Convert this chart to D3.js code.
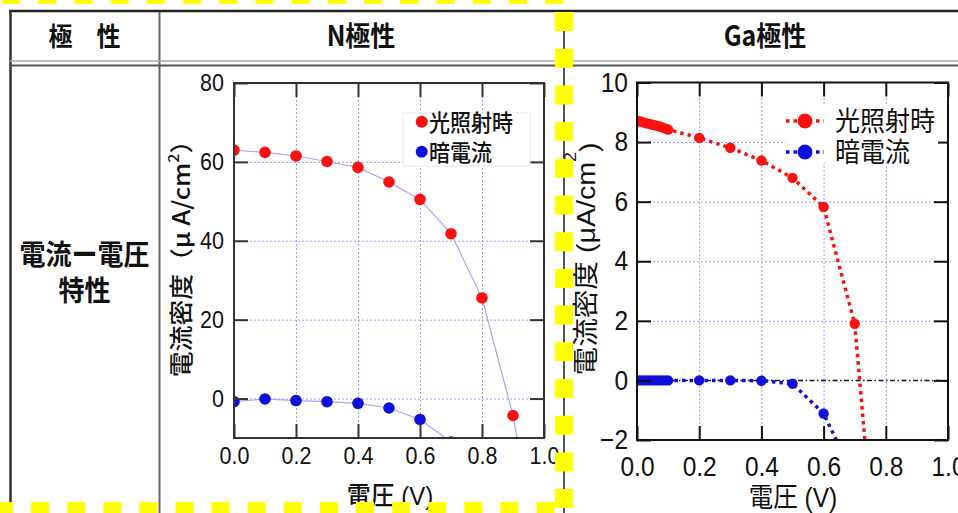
<!DOCTYPE html>
<html>
<head>
<meta charset="utf-8">
<script src="https://cdn.jsdelivr.net/npm/d3@7"></script>
<style>
    body { margin: 0; background: #fff; }
    svg { display: block; }
</style>
</head>
<body>
<script>
// ---- data ----
const headers = ['極　性', 'N極性', 'Ga極性'];
const rowLabel = ['電流ー電圧', '特性'];
const seriesNames = ['光照射時', '暗電流'];
const xTicks = [0, 0.2, 0.4, 0.6, 0.8, 1.0];

// N極性
const nYTicks = [0, 20, 40, 60, 80];
const nLightV = [0, 0.1, 0.2, 0.3, 0.4, 0.5, 0.6, 0.7, 0.8, 0.9, 1.0];
const nLightJ = [63.0, 62.4, 61.5, 60.1, 58.6, 54.9, 50.5, 41.8, 25.5, -4.3, -48];
const nDarkV = [0, 0.1, 0.2, 0.3, 0.4, 0.5, 0.6, 0.7];
const nDarkJ = [-0.8, -0.1, -0.5, -0.8, -1.2, -2.4, -5.3, -11.0];

// Ga極性
const gaYTicks = [-2, 0, 2, 4, 6, 8, 10];
const gaLightV = [0, 0.01, 0.02, 0.03, 0.04, 0.05, 0.06, 0.07, 0.08, 0.09, 0.1, 0.2, 0.3, 0.4, 0.5, 0.6, 0.7, 0.8];
const gaLightJ = [8.72, 8.69, 8.66, 8.63, 8.61, 8.58, 8.56, 8.53, 8.50, 8.46, 8.42, 8.14, 7.81, 7.38, 6.80, 5.82, 1.90, -10];
const gaDarkV = [0, 0.01, 0.02, 0.03, 0.04, 0.05, 0.06, 0.07, 0.08, 0.09, 0.1, 0.2, 0.3, 0.4, 0.5, 0.6, 0.7];
const gaDarkJ = [0, 0, 0, 0, 0, 0, 0, 0, 0, 0, 0, 0.0, 0.0, -0.01, -0.11, -1.11, -3.3];

const SY = 1.1; // the source picture is a little stretched vertically
const CJK = '"Noto Sans CJK JP", sans-serif';
const ARIAL = '"Liberation Sans", "Noto Sans CJK JP", sans-serif';
const RED = '#ff1010', BLUE = '#1010dd', GRID = '#9c9cf4';

const svg = d3.select('body').append('svg')
    .attr('width', 958)
    .attr('height', 513);

const label = (parent, x, y, str, o = {}) => {
    const t = parent.append('text')
        .attr('transform', o.rotate
            ? `translate(${x},${y}) rotate(-90) scale(${SY},1)`
            : `translate(${x},${y}) scale(1,${SY})`)
        .attr('text-anchor', o.anchor || 'middle')
        .attr('dominant-baseline', 'central')
        .attr('font-family', o.font || CJK)
        .attr('font-size', o.size || 22)
        .attr('font-weight', o.weight || 'normal')
        .attr('fill', '#111');
    if (o.sup) {
        t.append('tspan').text(str);
        t.append('tspan').text(o.sup).attr('font-size', '0.62em').attr('dy', o.supDy || '-0.55em');
        t.append('tspan').text(o.tail).attr('dy', o.tailDy || '0.34em');
    } else {
        t.text(str);
    }
    return t;
};

// ---- table ----
const tbl = svg.append('g').attr('class', 'table');
const rule = (x1, y1, x2, y2, c, w) => tbl.append('line')
    .attr('x1', x1).attr('y1', y1).attr('x2', x2).attr('y2', y2)
    .attr('stroke', c).attr('stroke-width', w);
rule(9, 11, 958, 11, '#222', 2.5);
rule(10.5, 10, 10.5, 513, '#333', 2.5);
rule(159.5, 12, 159.5, 513, '#666', 2);
rule(564, 12, 564, 513, '#555', 2);
rule(10, 61, 958, 61, '#aaa', 1.5);
rule(10, 65.5, 958, 65.5, '#555', 2);

label(tbl, 84.5, 34.5, headers[0], {size: 24, weight: 'bold'});
label(tbl, 361, 34.5, headers[1], {size: 25, weight: 'bold'});
label(tbl, 765, 34, headers[2], {size: 25, weight: 'bold'});
label(tbl, 84.5, 252, rowLabel[0], {size: 26, weight: 'bold'});
label(tbl, 84.5, 288, rowLabel[1], {size: 26, weight: 'bold'});

// ---- shared axis helpers ----
const styleAxis = (sel, o) => {
    sel.select('.domain').remove();
    sel.selectAll('.tick line').attr('stroke', o.color).attr('stroke-width', 2);
    sel.selectAll('.tick text')
        .attr('fill', '#111')
        .attr('font-family', ARIAL)
        .attr('font-size', o.size)
        .attr('transform', `scale(1,${SY})`);
};

const grid = (g, x, y, w, h, xs, ys) => {
    const dotted = s => {
        s.select('.domain').remove();
        s.selectAll('.tick line').attr('stroke', GRID).attr('stroke-width', 1).attr('stroke-dasharray', '2,2');
    };
    g.append('g').attr('class', 'grid')
        .attr('transform', `translate(0,${h})`)
        .call(d3.axisBottom(x).tickValues(xs).tickSize(-h).tickFormat(''))
        .call(dotted);
    g.append('g').attr('class', 'grid')
        .call(d3.axisLeft(y).tickValues(ys).tickSize(-w).tickFormat(''))
        .call(dotted);
};

const frame = (g, x, y, w, h, yTicks, o) => {
    g.append('rect').attr('width', w).attr('height', h)
        .attr('fill', 'none').attr('stroke', o.color).attr('stroke-width', 2);
    g.append('g').attr('transform', `translate(0,${h})`)
        .call(d3.axisBottom(x).tickValues(xTicks).tickSizeInner(-14).tickSizeOuter(0)
            .tickPadding(o.xPad).tickFormat(d3.format('.1f')))
        .call(s => styleAxis(s, o));
    g.append('g')
        .call(d3.axisLeft(y).tickValues(yTicks).tickSizeInner(-14).tickSizeOuter(0)
            .tickPadding(o.yPad).tickFormat(d3.format('d')))
        .call(s => styleAxis(s, o));
    g.append('g')
        .call(d3.axisTop(x).tickValues(xTicks).tickSizeInner(-14).tickSizeOuter(0).tickFormat(''))
        .call(s => styleAxis(s, o));
    g.append('g').attr('transform', `translate(${w},0)`)
        .call(d3.axisRight(y).tickValues(yTicks).tickSizeInner(-14).tickSizeOuter(0).tickFormat(''))
        .call(s => styleAxis(s, o));
};

// ---- N極性 chart ----
(() => {
    const left = 234, top = 83, w = 310, h = 355;
    const x = d3.scaleLinear().domain([0, 1]).range([0, w]);
    const y = d3.scaleLinear().domain([-10, 80]).range([h, 0]);
    const g = svg.append('g').attr('transform', `translate(${left},${top})`);

    svg.append('defs').append('clipPath').attr('id', 'clipN')
        .append('rect').attr('width', w).attr('height', h);

    grid(g, x, y, w, h, [0.2, 0.4, 0.6, 0.8], [0, 20, 40, 60]);

    const plot = g.append('g').attr('clip-path', 'url(#clipN)');
    const line = d3.line().x(d => x(d[0])).y(d => y(d[1]));
    const series = [
        {pts: d3.zip(nLightV, nLightJ), color: RED},
        {pts: d3.zip(nDarkV, nDarkJ), color: BLUE},
    ];
    series.forEach(s => {
        plot.append('path').datum(s.pts)
            .attr('d', line)
            .attr('fill', 'none')
            .attr('stroke', '#a6a6f2')
            .attr('stroke-width', 1.2);
    });
    series.forEach(s => {
        plot.selectAll(null).data(s.pts).enter().append('circle')
            .attr('cx', d => x(d[0]))
            .attr('cy', d => y(d[1]))
            .attr('r', 5.8)
            .attr('fill', s.color);
    });

    frame(g, x, y, w, h, nYTicks, {color: '#333', size: 21.5, xPad: 8, yPad: 10});

    // legend
    const lg = g.append('g').attr('transform', `translate(${403 - left},${113 - top})`);
    lg.append('rect').attr('width', 127).attr('height', 53)
        .attr('fill', '#fff').attr('stroke', '#e8e8e8');
    series.forEach((s, i) => {
        lg.append('circle').attr('cx', 18.7).attr('cy', 8.7 + 30 * i).attr('r', 6).attr('fill', s.color);
        label(lg, 26, 8 + 30 * i, seriesNames[i], {anchor: 'start', size: 21, weight: 500});
    });

    label(svg, 180, 252.5, '電流密度（μ A/cm', {rotate: true, size: 23.5, weight: 500, sup: '2', tail: '）'});
    label(svg, 390, 496, '電圧 (V)', {size: 24, weight: 500, font: ARIAL});
})();

// ---- Ga極性 chart ----
(() => {
    const left = 637, top = 82.5, w = 311, h = 357.5;
    const x = d3.scaleLinear().domain([0, 1]).range([0, w]);
    const y = d3.scaleLinear().domain([-2, 10]).range([h, 0]);
    const g = svg.append('g').attr('transform', `translate(${left},${top})`);

    svg.select('defs').append('clipPath').attr('id', 'clipGa')
        .append('rect').attr('width', w).attr('height', h);

    grid(g, x, y, w, h, [0.2, 0.4, 0.6, 0.8], [2, 4, 6, 8]);

    const plot = g.append('g').attr('clip-path', 'url(#clipGa)');
    plot.append('line')
        .attr('x1', x(0)).attr('x2', x(1)).attr('y1', y(0)).attr('y2', y(0))
        .attr('stroke', '#111').attr('stroke-width', 1.5)
        .attr('stroke-dasharray', '5,2.5,1.5,2.5');

    const line = d3.line().x(d => x(d[0])).y(d => y(d[1]));
    const series = [
        {pts: d3.zip(gaDarkV, gaDarkJ), color: BLUE, i: 1},
        {pts: d3.zip(gaLightV, gaLightJ), color: RED, i: 0},
    ];
    series.forEach(s => {
        plot.append('path').datum(s.pts)
            .attr('d', line)
            .attr('fill', 'none')
            .attr('stroke', s.color)
            .attr('stroke-width', 3.5)
            .attr('stroke-dasharray', '3.5,4');
        plot.selectAll(null).data(s.pts).enter().append('circle')
            .attr('cx', d => x(d[0]))
            .attr('cy', d => y(d[1]))
            .attr('r', 5.2)
            .attr('fill', s.color);
    });

    frame(g, x, y, w, h, gaYTicks, {color: '#111', size: 24.5, xPad: 15, yPad: 9});

    // legend
    const lg = g.append('g').attr('transform', `translate(${786 - left},${105 - top})`);
    lg.append('rect').attr('width', 152).attr('height', 58).attr('fill', '#fff');
    [RED, BLUE].forEach((c, i) => {
        const cy = 16 + 31 * i;
        lg.append('line').attr('x1', 0).attr('x2', 38).attr('y1', cy).attr('y2', cy)
            .attr('stroke', c).attr('stroke-width', 3.5).attr('stroke-dasharray', '3.5,4');
        lg.append('circle').attr('cx', 19).attr('cy', cy).attr('r', 7.5).attr('fill', c);
        label(lg, 49, cy - 2, seriesNames[i], {anchor: 'start', size: 25});
    });

    label(svg, 585, 259, '電流密度 (μA/cm', {rotate: true, size: 26, font: ARIAL, sup: '2', supDy: '-0.9em', tail: ')', tailDy: '0.7em'});
    label(svg, 793, 498, '電圧 (V)', {size: 24.5, font: ARIAL});
})();

// ---- yellow dashed marker over the N column ----
const hl = svg.append('g').attr('stroke', '#ffff00').attr('stroke-width', 18);
hl.append('line').attr('x1', 2).attr('y1', -5).attr('x2', 573).attr('y2', -5).attr('stroke-dasharray', '18,18.2');
hl.append('line').attr('x1', 564).attr('y1', 12).attr('x2', 564).attr('y2', 513).attr('stroke-dasharray', '19,17.7');
hl.append('line').attr('x1', -5).attr('y1', 511).attr('x2', 564).attr('y2', 511).attr('stroke-dasharray', '18,18.1');
</script>
</body>
</html>
